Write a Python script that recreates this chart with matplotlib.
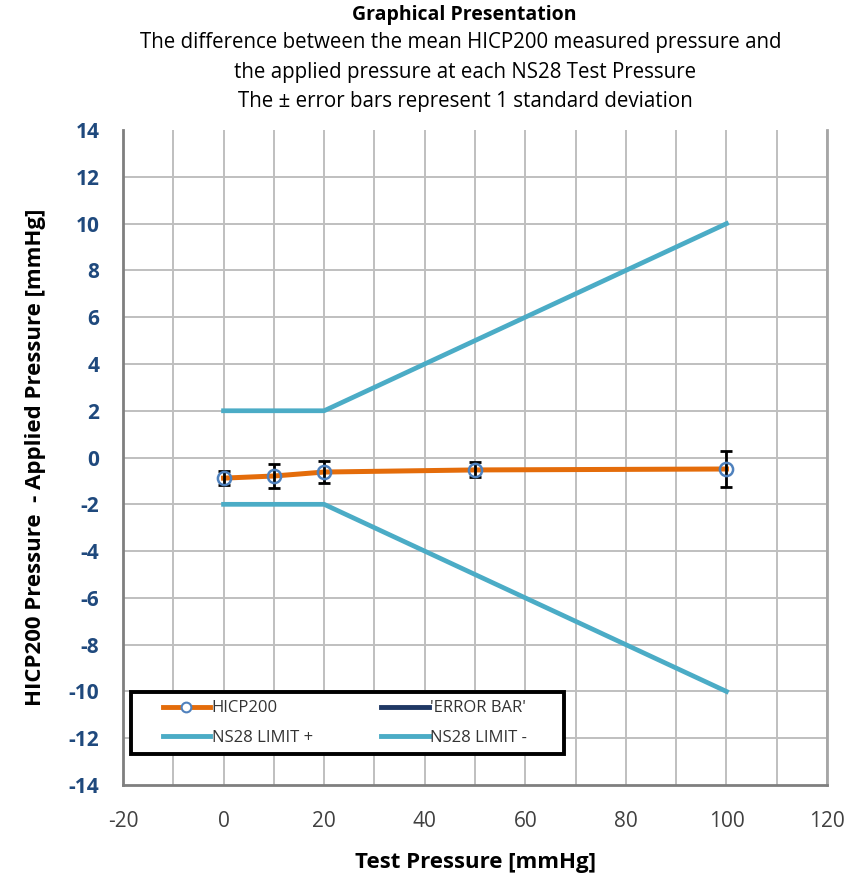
import matplotlib
matplotlib.use("Agg")
import matplotlib.pyplot as plt
from matplotlib.lines import Line2D
from matplotlib.patches import Rectangle
from matplotlib.legend_handler import HandlerLine2D

plt.rcParams['font.family'] = ['Open Sans', 'DejaVu Sans']
plt.rcParams['axes.unicode_minus'] = False

# Data
test_pressure = [0, 10, 20, 50, 100]
hicp200_diff = [-0.88, -0.79, -0.62, -0.53, -0.49]
hicp200_sd = [0.30, 0.50, 0.47, 0.32, 0.77]
limit_x = [0, 20, 100]
limit_plus = [2, 2, 10]
limit_minus = [-2, -2, -10]
xticks = [-20, 0, 20, 40, 60, 80, 100, 120]
yticks = list(range(-14, 15, 2))

orange = '#E46C0A'
cyan = '#4BACC6'
navy = '#1F3864'
tickblue = '#1F497D'
gridc = '#BFBFBF'

fig = plt.figure(figsize=(8.66, 8.73), dpi=100)
ax = fig.add_axes([0.142, 0.1008, 0.813, 0.7502])

ax.set_xlim(-20, 120)
ax.set_ylim(-14, 14)
ax.set_xticks(xticks)
ax.set_xticks(range(-10, 120, 20), minor=True)
ax.set_yticks(yticks)
ax.grid(True, axis='x', which='both', color=gridc, linewidth=1.4)
for yv in yticks[1:-1]:
    ax.axhline(yv, color=gridc, linewidth=1.4, zorder=0.5)
ax.set_axisbelow(True)
ax.spines['top'].set_visible(False)
ax.spines['right'].set_color('#A6A6A6')
ax.spines['right'].set_linewidth(2)
for side in ['left', 'bottom']:
    ax.spines[side].set_color('#7F7F7F')
    ax.spines[side].set_linewidth(2)
ax.tick_params(which='both', length=0)
ax.tick_params(axis='x', labelsize=15, colors='#404040', pad=19)
ax.tick_params(axis='y', labelsize=15, colors=tickblue, pad=17)
for lbl in ax.get_yticklabels():
    lbl.set_fontweight('bold')

ax.plot(limit_x, limit_plus, color=cyan, linewidth=3.4, zorder=2)
ax.plot(limit_x, limit_minus, color=cyan, linewidth=3.4, zorder=2)
ax.plot(test_pressure, hicp200_diff, color=orange, linewidth=3.6, zorder=3)
ax.errorbar(test_pressure, hicp200_diff, yerr=hicp200_sd, fmt='none',
            ecolor='black', elinewidth=2.0, capsize=4, capthick=2.0, zorder=4)
ax.plot(test_pressure, hicp200_diff, linestyle='none', marker='o', markersize=9.5,
        markerfacecolor='none', markeredgecolor='#4F81BD', markeredgewidth=1.8, zorder=5)

ax.set_xlabel('Test Pressure [mmHg]', fontsize=16, fontweight='bold', labelpad=14)
ax.set_ylabel('HICP200 Pressure  - Applied Pressure [mmHg]', fontsize=16,
              fontweight='bold', labelpad=16)

fig.text(0.536, 0.983, 'Graphical Presentation', ha='center', va='center',
         fontsize=14, fontweight='bold')
fig.text(0.532, 0.951, 'The difference between the mean HICP200 measured pressure and',
         ha='center', va='center', fontsize=14.8)
fig.text(0.537, 0.917, 'the applied pressure at each NS28 Test Pressure',
         ha='center', va='center', fontsize=14.8)
fig.text(0.537, 0.884, 'The \u00b1 error bars represent 1 standard deviation',
         ha='center', va='center', fontsize=14.8)

# legend frame
ax.add_patch(Rectangle((0.0114, 0.0473), 0.615, 0.0947, transform=ax.transAxes,
                       facecolor='white', edgecolor='black', linewidth=2.8, zorder=6))

handles = [
    Line2D([], [], color=orange, linewidth=3.5, marker='o', markersize=7,
           markerfacecolor='white', markeredgecolor='#4F81BD', markeredgewidth=1.5),
    Line2D([], [], color=cyan, linewidth=3.5),
    Line2D([], [], color=navy, linewidth=3.5),
    Line2D([], [], color=cyan, linewidth=3.5),
]
labels = ['HICP200', 'NS28 LIMIT +', "'ERROR BAR'", 'NS28 LIMIT -']
hmap = {h: HandlerLine2D(xpad=1.4) for h in handles}
leg = ax.legend(handles, labels, ncol=2, loc='lower left',
                bbox_to_anchor=(0.0114, 0.0473), fontsize=12, frameon=False,
                handlelength=4.25, handletextpad=0.1, columnspacing=2.7,
                labelspacing=0.8, borderpad=0.5, borderaxespad=0,
                handler_map=hmap)
leg.set_zorder(7)
for t in leg.get_texts():
    t.set_color('#333333')

fig.savefig('out.png', dpi=100)
